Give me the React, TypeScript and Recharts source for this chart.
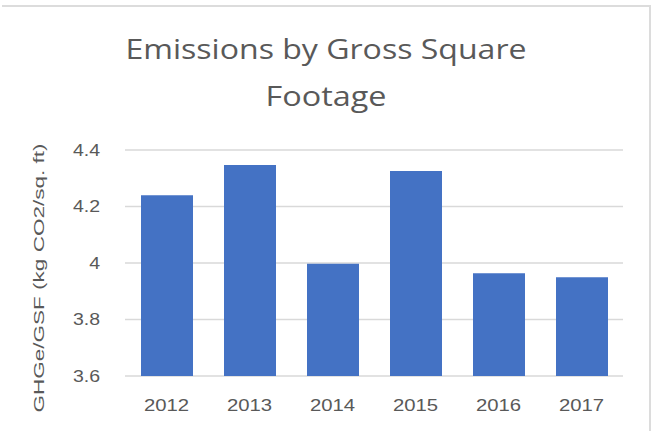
import React from "react";
import { BarChart, Bar, XAxis, YAxis, CartesianGrid } from "recharts";

const years = ["2012", "2013", "2014", "2015", "2016", "2017"];
const emissions = [4.24, 4.347, 3.997, 4.326, 3.964, 3.95];
const yTicks = [3.6, 3.8, 4, 4.2, 4.4];
const titleLines = ["Emissions by Gross Square", "Footage"];
const yLabel = "GHGe/GSF  (kg CO2/sq. ft)";

const data = years.map((year, i) => ({ year, value: emissions[i] }));

const TEXT = "#595959";
const TICK_FONT = "'Liberation Sans', Arial, sans-serif";
const TITLE_FONT = "'Open Sans', Lato, sans-serif";

const XTick = (props: any) => {
  const { x, y, payload } = props;
  return (
    <g transform={`translate(${x},${y + 29})`}>
      <text
        transform="scale(1.27,1)"
        textAnchor="middle"
        dy="0.355em"
        fill={TEXT}
        fontSize={16}
        fontFamily={TICK_FONT}
      >
        {payload.value}
      </text>
    </g>
  );
};

const YTick = (props: any) => {
  const { x, y, payload } = props;
  return (
    <g transform={`translate(${x},${y})`}>
      <text
        transform="scale(1.22,1)"
        textAnchor="end"
        dy="0.355em"
        fill={TEXT}
        fontSize={16}
        fontFamily={TICK_FONT}
      >
        {String(payload.value)}
      </text>
    </g>
  );
};

export default function App() {
  return (
    <div
      style={{
        position: "absolute",
        left: 0,
        top: 0,
        width: 653,
        height: 431,
        background: "#fff",
        overflow: "hidden",
      }}
    >
      <div
        style={{
          position: "absolute",
          left: 2,
          top: 5,
          width: 647,
          height: 440,
          borderTop: "2px solid #dcdcdc",
          borderRight: "2px solid #dcdcdc",
        }}
      />
      <svg
        width={653}
        height={431}
        style={{ position: "absolute", left: 0, top: 0 }}
      >
        <text
          x={326}
          y={59}
          textAnchor="middle"
          fill={TEXT}
          fontSize={28}
          fontFamily={TITLE_FONT}
          textLength={401}
          lengthAdjust="spacingAndGlyphs"
        >
          {titleLines[0]}
        </text>
        <text
          x={326}
          y={106}
          textAnchor="middle"
          fill={TEXT}
          fontSize={28}
          fontFamily={TITLE_FONT}
          textLength={121}
          lengthAdjust="spacingAndGlyphs"
        >
          {titleLines[1]}
        </text>
        <text
          transform="translate(39,278) rotate(-90)"
          textAnchor="middle"
          dy="0.355em"
          fill={TEXT}
          fontSize={15}
          fontFamily={TICK_FONT}
          textLength={269}
          lengthAdjust="spacingAndGlyphs"
        >
          {yLabel}
        </text>
      </svg>
      <div style={{ position: "absolute", left: 0, top: 0 }}>
        <BarChart
          width={653}
          height={431}
          data={data}
          margin={{ top: 150, right: 30, bottom: 25, left: 0 }}
        >
          <CartesianGrid
            vertical={false}
            stroke="#d9d9d9"
            strokeWidth={1.5}
          />
          <XAxis
            dataKey="year"
            height={30}
            axisLine={false}
            tickLine={false}
            tickSize={0}
            tickMargin={0}
            tick={<XTick />}
            interval={0}
          />
          <YAxis
            width={125}
            domain={[3.6, 4.4]}
            ticks={yTicks}
            axisLine={false}
            tickLine={false}
            tickSize={0}
            tickMargin={25}
            tick={<YTick />}
            allowDataOverflow
          />
          <Bar
            dataKey="value"
            fill="#4472C4"
            barSize={52}
            isAnimationActive={false}
          />
        </BarChart>
      </div>
    </div>
  );
}
